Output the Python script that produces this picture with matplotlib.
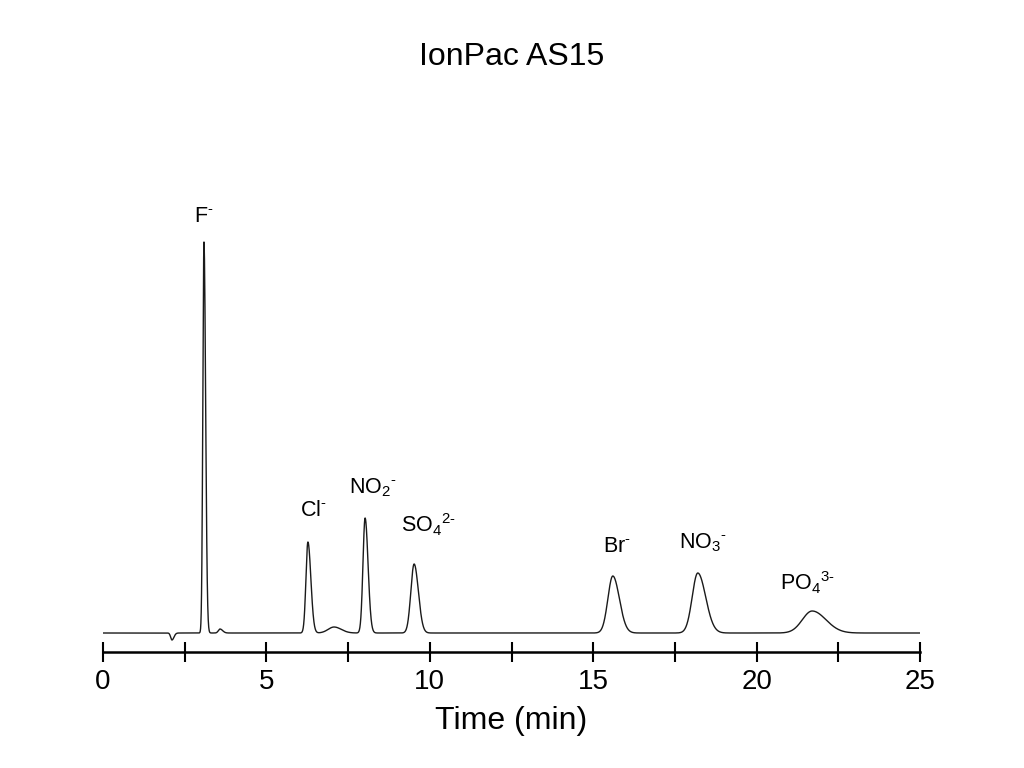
import numpy as np
import matplotlib.pyplot as plt

plt.rcParams['font.family'] = ['Liberation Sans', 'DejaVu Sans']
plt.rcParams['mathtext.fontset'] = 'custom'
plt.rcParams['mathtext.rm'] = 'Liberation Sans'

# peak table (time in min, height in arbitrary units)
peak_times = [2.11, 3.09, 3.58, 6.27, 7.07, 8.02, 9.52, 15.60, 18.20, 21.70]
peak_heights = [-7, 391, 4, 91, 6, 115, 69, 57, 60, 22]
sigma_left = [0.04, 0.035, 0.05, 0.06, 0.18, 0.065, 0.10, 0.15, 0.17, 0.30]
sigma_right = [0.06, 0.05, 0.08, 0.09, 0.22, 0.09, 0.13, 0.20, 0.24, 0.42]

ion_labels = [r'F$^{\text{-}}$', r'Cl$^{\text{-}}$', r'NO$_2$$^{\text{-}}$',
              r'SO$_4$$^{\text{2-}}$', r'Br$^{\text{-}}$', r'NO$_3$$^{\text{-}}$',
              r'PO$_4$$^{\text{3-}}$']
label_x = [3.09, 6.43, 8.26, 9.95, 15.73, 18.36, 21.57]
label_y = [416, 123, 145, 108, 86, 90, 50]

t = np.linspace(0, 25, 5001)
signal = np.zeros_like(t)
for t0, h, sl, sr in zip(peak_times, peak_heights, sigma_left, sigma_right):
    s = np.where(t < t0, sl, sr)
    signal += h * np.exp(-0.5 * ((t - t0) / s) ** 2)

fig = plt.figure(figsize=(10.24, 7.68), dpi=100)
ax = fig.add_axes([103 / 1024, 116 / 768, 817 / 1024, 552 / 768])
ax.plot(t, signal, color='#1a1a1a', linewidth=1.0)

for lab, lx, ly in zip(ion_labels, label_x, label_y):
    ax.text(lx, ly, lab, ha='center', va='center', fontsize=15.5)

ax.set_xlim(0, 25)
ax.set_ylim(-19, 533)
ax.set_xticks(np.arange(0, 25.1, 2.5))
ax.set_xticklabels(['0', '', '5', '', '10', '', '15', '', '20', '', '25'])
ax.tick_params(axis='x', direction='inout', length=14, width=1.5,
               labelsize=20, pad=5)
ax.set_yticks([])
for side in ['left', 'right', 'top']:
    ax.spines[side].set_visible(False)
ax.spines['bottom'].set_linewidth(1.8)

ax.set_xlabel('Time (min)', fontsize=23, labelpad=8)
fig.suptitle('IonPac AS15', fontsize=23, y=0.945)

plt.savefig('out.png', dpi=100)
